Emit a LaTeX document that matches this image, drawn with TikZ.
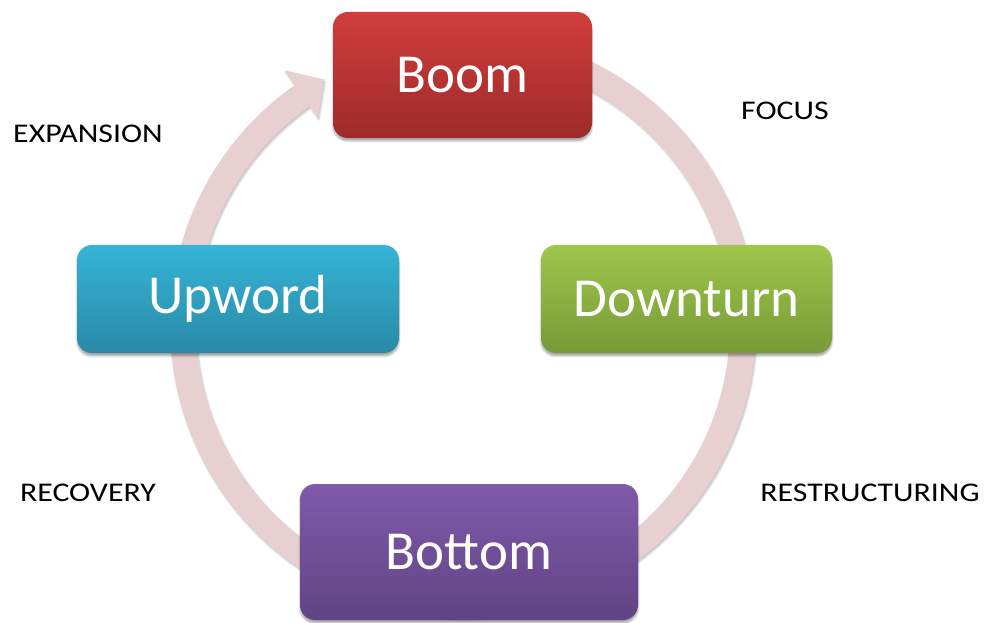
\documentclass[tikz,border=0pt]{standalone}
\usepackage{fontspec}
\setmainfont{Carlito}
\newfontfamily\labelfont[FakeStretch=1.18]{Carlito}
\usetikzlibrary{shadows.blur}
\definecolor{ring}{RGB}{232,207,209}
\definecolor{boomtop}{RGB}{208,62,60}
\definecolor{boombot}{RGB}{158,42,42}
\definecolor{downtop}{RGB}{158,198,74}
\definecolor{downbot}{RGB}{120,154,56}
\definecolor{uptop}{RGB}{54,180,214}
\definecolor{upbot}{RGB}{40,138,166}
\definecolor{bottop}{RGB}{128,90,170}
\definecolor{botbot}{RGB}{96,68,132}

\begin{document}
\begin{tikzpicture}[x=1pt, y=1pt, phase/.style = {shape=rectangle, rounded corners=15pt, align=center, text=white, inner sep=0pt, font=\fontsize{55}{60}\selectfont, blur shadow={shadow xshift=0pt, shadow yshift=-3pt, shadow blur steps=6, shadow opacity=35}}, label/.style = {font=\labelfont\fontsize{27}{30}\selectfont, text=black}]
	\useasboundingbox (0,0) rectangle (990,622);
	\coordinate (ctr) at (463,297);
	\begin{scope}[shift={(ctr)}]
		\fill[ring, blur shadow={shadow xshift=1pt, shadow yshift=-2pt, shadow blur steps=4, shadow opacity=25}] (100:293) arc[start angle=100, end angle=-235, radius=293] -- (-235:311) -- (-240.5:282) -- (-235:253) -- (-235:267) arc[start angle=-235, end angle=100, radius=267] -- cycle;
	\end{scope}
	\node[phase, top color=boomtop, bottom color=boombot, minimum width=259pt, minimum height=126pt] (boom) at (462.5,547) {Boom};
	\node[phase, top color=downtop, bottom color=downbot, minimum width=291pt, minimum height=108pt] (down) at (686.5,323) {Downturn};
	\node[phase, top color=uptop, bottom color=upbot, minimum width=322pt, minimum height=108pt] (up) at (238,323) {Upword};
	\node[phase, top color=bottop, bottom color=botbot, minimum width=338pt, minimum height=136pt] (bottom) at (469,70) {Bottom};
	\node[label] (expansion) at (88,488.5) {EXPANSION};
	\node[label] (focus) at (785,511) {FOCUS};
	\node[label] (recovery) at (88,129) {RECOVERY};
	\node[label] (restructuring) at (870,129) {RESTRUCTURING};
\end{tikzpicture}
\end{document}
